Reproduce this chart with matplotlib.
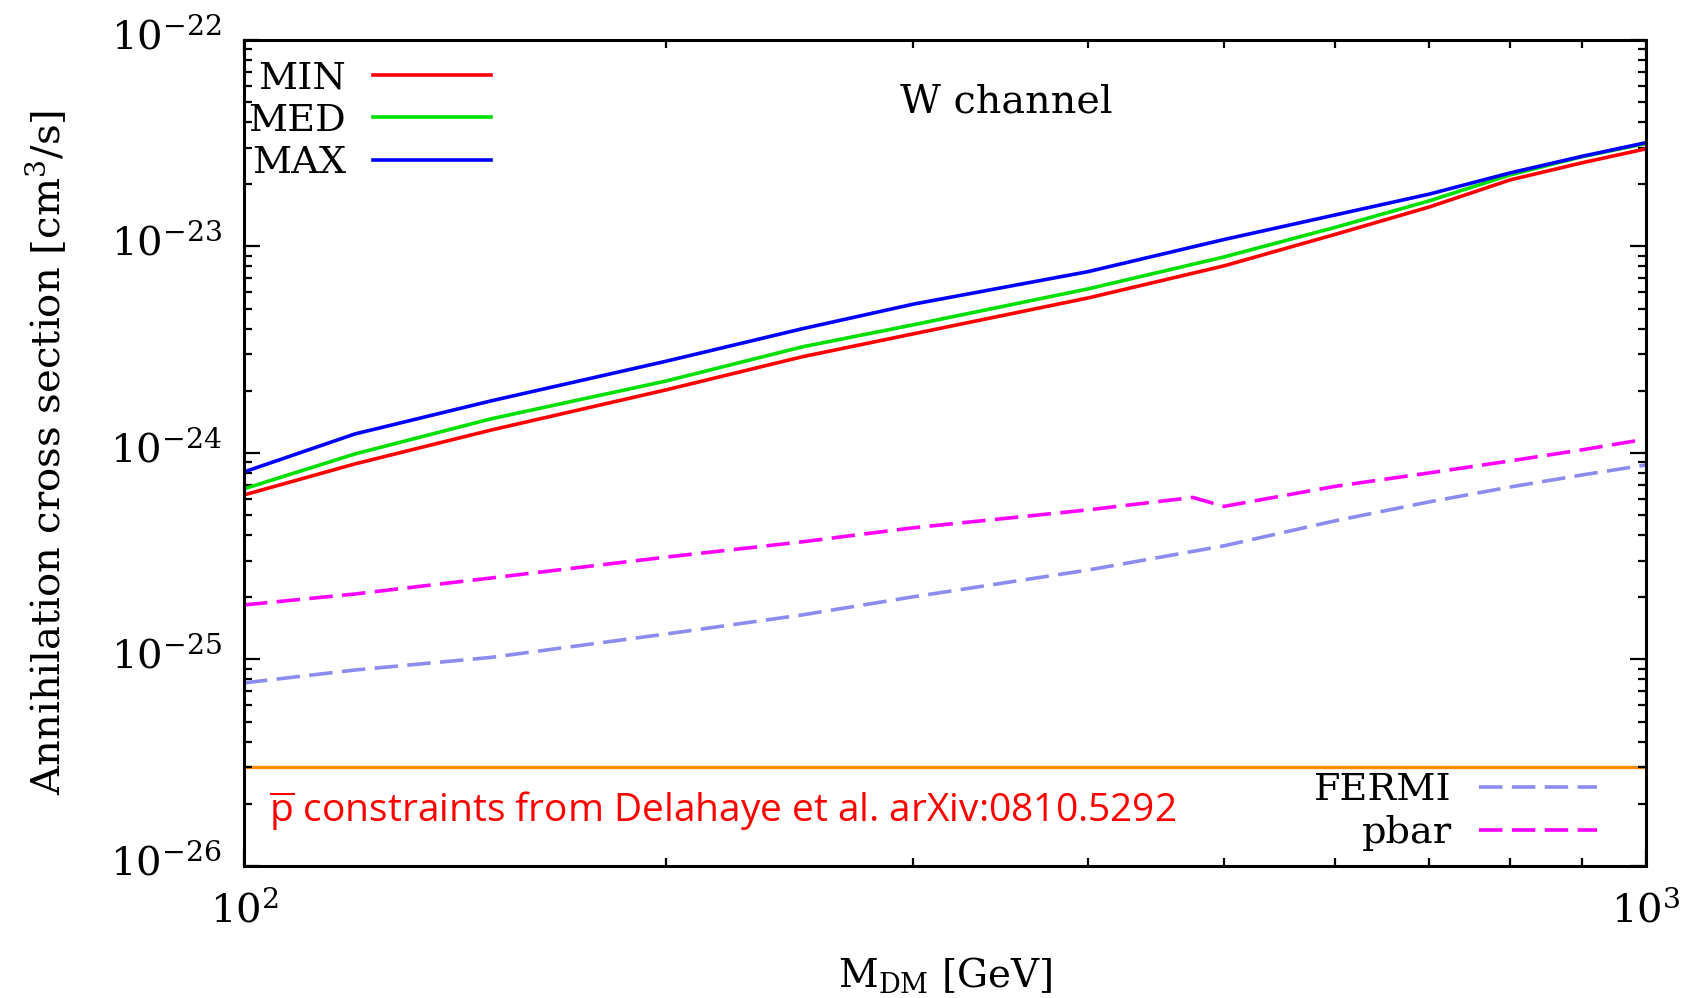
"""
Annihilation cross section limits vs DM mass, W channel
"""

import matplotlib
matplotlib.use('Agg')
import matplotlib.pyplot as plt
import matplotlib.transforms as mtransforms
import numpy as np

# masses [GeV] for the propagation-model curves
mass = [100, 120, 150, 200, 250, 300, 400, 500, 600, 700, 800, 900, 1000]

sv_min = [6.26e-25, 8.85e-25, 1.29e-24, 2.02e-24, 2.92e-24, 3.77e-24,
          5.63e-24, 8.05e-24, 1.143e-23, 1.55e-23, 2.10e-23, 2.54e-23,
          2.97e-23]
sv_med = [6.70e-25, 9.89e-25, 1.462e-24, 2.23e-24, 3.26e-24, 4.17e-24,
          6.23e-24, 8.89e-24, 1.236e-23, 1.66e-23, 2.22e-23, 2.72e-23,
          3.15e-23]
sv_max = [8.09e-25, 1.236e-24, 1.786e-24, 2.78e-24, 3.99e-24, 5.25e-24,
          7.55e-24, 1.08e-23, 1.42e-23, 1.79e-23, 2.27e-23, 2.73e-23,
          3.18e-23]

# FERMI limit
mass_fermi = [100, 120, 150, 200, 250, 300, 400, 500, 600, 700, 800, 900,
              1000]
sv_fermi = [7.7e-26, 8.89e-26, 1.023e-25, 1.328e-25, 1.642e-25, 2.01e-25,
            2.71e-25, 3.55e-25, 4.69e-25, 5.79e-25, 6.84e-25, 7.82e-25,
            8.75e-25]

# antiproton limit (Delahaye et al.)
mass_pbar = [100, 120, 150, 200, 250, 300, 400, 475, 500, 600, 700, 800,
             900, 985]
sv_pbar = [1.836e-25, 2.075e-25, 2.48e-25, 3.13e-25, 3.71e-25, 4.34e-25,
           5.30e-25, 6.09e-25, 5.51e-25, 6.89e-25, 8.00e-25, 9.15e-25,
           1.035e-24, 1.147e-24]

sv_thermal = 3e-26
y_ticks = [1e-26, 1e-25, 1e-24, 1e-23, 1e-22]


def main():
    plt.rcParams['font.family'] = 'DejaVu Serif'
    plt.rcParams['mathtext.fontset'] = 'dejavuserif'
    plt.rcParams['mathtext.rm'] = 'Open Sans'
    plt.rcParams['mathtext.it'] = 'Open Sans'

    fig = plt.figure(figsize=(16.86, 9.98), dpi=100)
    ax = fig.add_axes([0.1447, 0.1323, 0.8316, 0.8277])

    ax.axhline(sv_thermal, c='#ff8c00', lw=2.4, zorder=1)

    l_min, = ax.plot(mass, sv_min, c='#ff0000', lw=2.6, label='MIN')
    l_med, = ax.plot(mass, sv_med, c='#00e000', lw=2.6, label='MED')
    l_max, = ax.plot(mass, sv_max, c='#0000ff', lw=2.6, label='MAX')

    l_fermi, = ax.plot(mass_fermi, sv_fermi, c='#8c8cf0', lw=2.6,
                       dashes=(6.5, 2.6), label='FERMI')
    l_pbar, = ax.plot(mass_pbar, sv_pbar, c='#ff00ff', lw=2.6,
                      dashes=(6.5, 2.6), label='pbar')

    ax.set_xscale('log')
    ax.set_yscale('log')
    ax.set_xlim(100, 1000)
    ax.set_ylim(1e-26, 1e-22)
    ax.set_yticks(y_ticks)

    for s in ax.spines.values():
        s.set_linewidth(2.2)
    ax.tick_params(which='both', direction='in', top=True, right=True,
                   width=1.6)
    ax.tick_params(which='major', length=11.5, labelsize=29)
    ax.tick_params(axis='x', which='major', pad=18)
    ax.tick_params(axis='y', which='major', pad=16)
    ax.tick_params(which='minor', length=5.5)
    ax.xaxis.set_minor_formatter(plt.NullFormatter())

    # gnuplot-like: y tick labels sit a bit higher than the tick
    up = mtransforms.ScaledTranslation(0, 0.07, fig.dpi_scale_trans)
    for tick in ax.yaxis.get_major_ticks():
        tick.label1.set_transform(tick.label1.get_transform() + up)

    ax.set_xlabel(r'M$_{\rm DM}$ [GeV]', fontsize=28, labelpad=18)
    ax.set_ylabel(r'Annihilation cross section [cm$^3$/s]', fontsize=29,
                  labelpad=30)

    ax.text(0.544, 0.925, 'W channel', transform=ax.transAxes,
            fontsize=28.5, ha='center', va='center')

    ax.text(0.0178, 0.066,
            r'$\overline{\mathrm{p}}$ constraints from Delahaye et al. '
            r'arXiv:0810.5292',
            transform=ax.transAxes, fontsize=28, color='#ff0000',
            family='Open Sans', math_fontfamily='custom',
            ha='left', va='center')

    leg1 = ax.legend(handles=[l_min, l_med, l_max], loc='center',
                     bbox_to_anchor=(0.0899, 0.9023), frameon=False,
                     markerfirst=False, fontsize=27.5, handlelength=3.1,
                     handletextpad=0.7, labelspacing=0.17, borderpad=0,
                     borderaxespad=0)
    ax.add_artist(leg1)
    ax.legend(handles=[l_fermi, l_pbar], loc='center',
              bbox_to_anchor=(0.8642, 0.0657), frameon=False,
              markerfirst=False, fontsize=27.5, handlelength=3.1,
              handletextpad=0.7, labelspacing=0.17, borderpad=0,
              borderaxespad=0)

    plt.savefig('out.png', dpi=100)


if __name__ == '__main__':
    main()
